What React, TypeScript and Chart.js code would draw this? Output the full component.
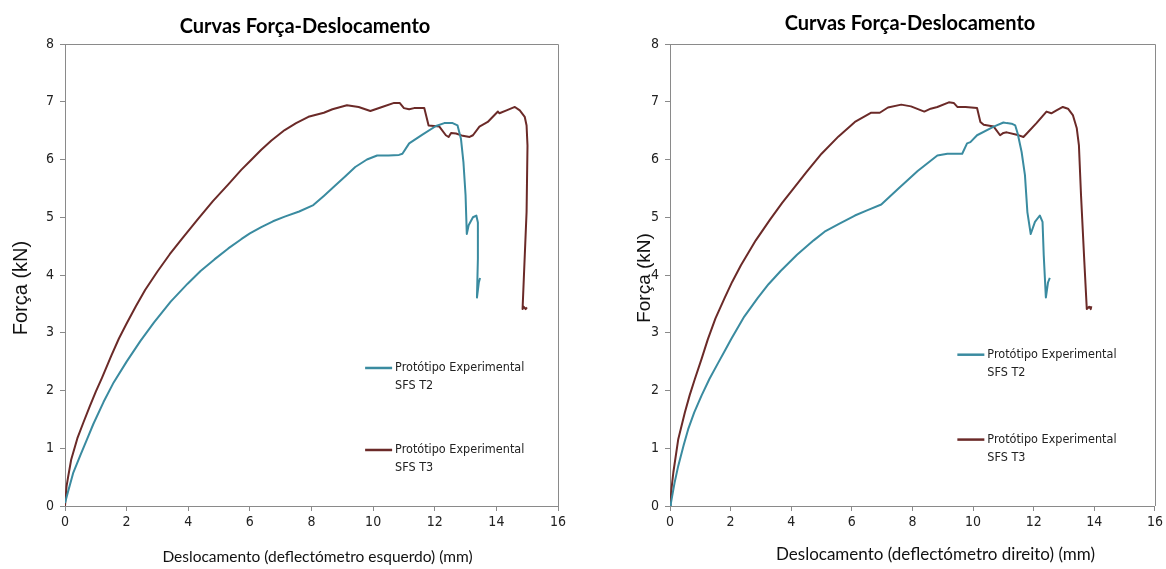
import React, { useEffect, useRef } from "react";
import { Chart, registerables } from "chart.js";

Chart.register(...registerables);

// ---------- text ----------
const CHART_TITLE = "Curvas Força-Deslocamento";
const Y_AXIS_TITLE = "Força (kN)";
const X_AXIS_TITLE_LEFT = "Deslocamento (deflectómetro esquerdo) (mm)";
const X_AXIS_TITLE_RIGHT = "Deslocamento (deflectómetro direito) (mm)";
const SERIES_T2_LABEL = ["Protótipo Experimental", "SFS T2"];
const SERIES_T3_LABEL = ["Protótipo Experimental", "SFS T3"];

// ---------- axes ----------
const X_MIN = 0;
const X_MAX = 16;
const X_STEP = 2;
const Y_MIN = 0;
const Y_MAX = 8;
const Y_STEP = 1;

// ---------- left chart (deflectómetro esquerdo) ----------
const leftT2X = [0, 0.1, 0.27, 0.5, 0.71, 0.92, 1.25, 1.58, 2.0, 2.45, 2.89, 3.43, 3.98, 4.4, 4.85, 5.3, 5.72, 6.0, 6.37, 6.75, 7.13, 7.6, 8.06, 8.4, 8.77, 9.1, 9.42, 9.8, 10.13, 10.5, 10.84, 10.95, 11.17, 11.6, 12.04, 12.31, 12.58, 12.74, 12.85, 12.93, 13.0, 13.04, 13.1, 13.24, 13.35, 13.4, 13.4, 13.37, 13.43, 13.47];
const leftT2Y = [0.05, 0.25, 0.58, 0.88, 1.15, 1.42, 1.8, 2.14, 2.5, 2.86, 3.18, 3.54, 3.85, 4.07, 4.27, 4.46, 4.62, 4.72, 4.83, 4.93, 5.01, 5.1, 5.21, 5.37, 5.55, 5.71, 5.87, 6.0, 6.07, 6.07, 6.08, 6.1, 6.28, 6.43, 6.58, 6.63, 6.63, 6.59, 6.36, 5.96, 5.38, 4.71, 4.86, 5.0, 5.03, 4.91, 4.28, 3.61, 3.87, 3.95];

const leftT3X = [0, 0.05, 0.1, 0.2, 0.4, 0.6, 0.8, 1.0, 1.2, 1.5, 1.75, 2.0, 2.3, 2.6, 3.0, 3.4, 3.8, 4.3, 4.8, 5.3, 5.72, 6.0, 6.37, 6.7, 7.13, 7.5, 7.9, 8.4, 8.68, 9.15, 9.53, 9.91, 10.29, 10.68, 10.86, 11.0, 11.17, 11.33, 11.66, 11.8, 12.15, 12.36, 12.45, 12.53, 12.69, 12.91, 13.13, 13.24, 13.45, 13.72, 14.05, 14.1, 14.33, 14.6, 14.76, 14.92, 14.98, 15.01, 14.98, 14.89, 14.85, 14.89, 14.95, 14.99];
const leftT3Y = [0, 0.34, 0.5, 0.8, 1.17, 1.45, 1.72, 1.98, 2.22, 2.6, 2.9, 3.16, 3.46, 3.74, 4.06, 4.36, 4.63, 4.96, 5.28, 5.57, 5.82, 5.97, 6.17, 6.33, 6.51, 6.63, 6.74, 6.81, 6.87, 6.94, 6.91, 6.84, 6.91, 6.98, 6.98, 6.89, 6.87, 6.89, 6.89, 6.59, 6.57, 6.42, 6.39, 6.46, 6.45, 6.41, 6.39, 6.42, 6.57, 6.65, 6.83, 6.8, 6.85, 6.91, 6.85, 6.74, 6.59, 6.24, 5.09, 3.93, 3.41, 3.45, 3.41, 3.44];

// ---------- right chart (deflectómetro direito) ----------
const rightT2X = [0, 0.03, 0.15, 0.27, 0.45, 0.6, 0.8, 1.04, 1.3, 1.58, 1.8, 2.02, 2.45, 2.89, 3.25, 3.65, 4.19, 4.74, 5.1, 5.56, 6.1, 6.5, 6.97, 7.52, 8.17, 8.82, 9.15, 9.64, 9.8, 9.91, 10.13, 10.57, 10.68, 11.0, 11.11, 11.27, 11.39, 11.47, 11.6, 11.71, 11.79, 11.9, 12.04, 12.2, 12.29, 12.33, 12.4, 12.47, 12.53];
const rightT2Y = [0, 0.05, 0.4, 0.69, 1.05, 1.33, 1.62, 1.91, 2.2, 2.47, 2.68, 2.89, 3.28, 3.6, 3.84, 4.07, 4.35, 4.6, 4.75, 4.88, 5.03, 5.12, 5.22, 5.49, 5.8, 6.07, 6.1, 6.1, 6.28, 6.3, 6.42, 6.54, 6.57, 6.64, 6.63, 6.62, 6.59, 6.45, 6.13, 5.73, 5.09, 4.71, 4.92, 5.03, 4.92, 4.34, 3.61, 3.87, 3.95];

const rightT3X = [0, 0.05, 0.11, 0.27, 0.49, 0.65, 0.82, 1.05, 1.25, 1.5, 1.8, 2.05, 2.34, 2.83, 3.3, 3.7, 4.0, 4.5, 5.0, 5.56, 6.1, 6.64, 6.92, 7.19, 7.63, 7.95, 8.39, 8.6, 8.82, 9.2, 9.36, 9.48, 9.75, 10.13, 10.24, 10.35, 10.68, 10.89, 11.0, 11.11, 11.44, 11.66, 11.77, 12.09, 12.42, 12.58, 12.75, 12.96, 13.13, 13.29, 13.42, 13.49, 13.56, 13.67, 13.75, 13.83, 13.88, 13.9];
const rightT3Y = [0, 0.3, 0.58, 1.15, 1.62, 1.92, 2.2, 2.56, 2.89, 3.25, 3.6, 3.88, 4.17, 4.6, 4.96, 5.25, 5.45, 5.78, 6.1, 6.4, 6.65, 6.81, 6.81, 6.9, 6.95, 6.92, 6.83, 6.88, 6.91, 6.99, 6.98, 6.91, 6.91, 6.89, 6.65, 6.6, 6.57, 6.42, 6.46, 6.47, 6.43, 6.39, 6.45, 6.63, 6.83, 6.8, 6.85, 6.91, 6.88, 6.77, 6.54, 6.25, 5.38, 4.22, 3.41, 3.45, 3.41, 3.46];

// legend anchor positions, in data units
const leftLegendX = [9.74, 9.74];
const leftLegendY = [2.39, 0.97];
const rightLegendX = [9.48, 9.48];
const rightLegendY = [2.62, 1.15];

// ---------- styles ----------
const COLOR_T2 = "#3a8ba0";
const COLOR_T3 = "#6b2a28";
const AXIS_COLOR = "#8a8a8a";
const NARROW = "'Liberation Sans Narrow', 'DejaVu Sans Condensed', 'Liberation Sans', Arial, sans-serif";
const CALIBRI_LIKE = "Lato, 'Open Sans', sans-serif";
const ARIAL = "'Liberation Sans', Arial, sans-serif";

const toPoints = (xs: number[], ys: number[]) => xs.map((x, i) => ({ x, y: ys[i] }));

type Layout = {
  canvasLeft: number;
  padRight: number;
  yScaleWidth: number;
  titleX: number;
  titleY: number;
  xTitle: string;
  xTitleDx: number;
  xTitleY: number;
  xTitleSize: number;
  yTitleX: number;
  yTitleDy: number;
  yTitleSize: number;
  legendX: number[];
  legendY: number[];
};

const W = 583;
const H = 569;

function ForceChart({
  t2x, t2y, t3x, t3y, layout,
}: { t2x: number[]; t2y: number[]; t3x: number[]; t3y: number[]; layout: Layout }) {
  const ref = useRef<HTMLCanvasElement | null>(null);

  useEffect(() => {
    const canvas = ref.current;
    if (!canvas) return;

    const framePlugin = {
      id: "frame",
      beforeDatasetsDraw(chart: any) {
        const { ctx, chartArea: a } = chart;
        ctx.save();
        ctx.strokeStyle = AXIS_COLOR;
        ctx.lineWidth = 1;
        ctx.beginPath();
        ctx.moveTo(a.left, Math.round(a.top) + 0.5);
        ctx.lineTo(Math.round(a.right) + 0.5, Math.round(a.top) + 0.5);
        ctx.lineTo(Math.round(a.right) + 0.5, a.bottom);
        ctx.stroke();
        ctx.restore();
      },
    };

    const titlesPlugin = {
      id: "titles",
      afterDraw(chart: any) {
        const { ctx, chartArea: a } = chart;
        ctx.save();
        ctx.textAlign = "center";
        ctx.textBaseline = "middle";
        ctx.fillStyle = "#000";
        ctx.font = `bold 20px ${CALIBRI_LIKE}`;
        ctx.fillText(CHART_TITLE, layout.titleX, layout.titleY);
        ctx.fillStyle = "#111";
        ctx.font = `${layout.xTitleSize}px ${CALIBRI_LIKE}`;
        ctx.fillText(layout.xTitle, (a.left + a.right) / 2 + layout.xTitleDx, layout.xTitleY);
        ctx.translate(layout.yTitleX, (a.top + a.bottom) / 2 + layout.yTitleDy);
        ctx.rotate(-Math.PI / 2);
        ctx.font = `${layout.yTitleSize}px ${ARIAL}`;
        ctx.fillText(Y_AXIS_TITLE, 0, 0);
        ctx.restore();
      },
    };

    const legendPlugin = {
      id: "innerLegend",
      afterDraw(chart: any) {
        const { ctx } = chart;
        const xs = chart.scales.x;
        const ys = chart.scales.y;
        const items = [
          { lines: SERIES_T2_LABEL, color: COLOR_T2 },
          { lines: SERIES_T3_LABEL, color: COLOR_T3 },
        ];
        ctx.save();
        ctx.font = `12.5px ${NARROW}`;
        ctx.textAlign = "left";
        ctx.textBaseline = "middle";
        items.forEach((it, i) => {
          const px = xs.getPixelForValue(layout.legendX[i]);
          const py = ys.getPixelForValue(layout.legendY[i]);
          ctx.strokeStyle = it.color;
          ctx.lineWidth = 2.5;
          ctx.beginPath();
          ctx.moveTo(px, py);
          ctx.lineTo(px + 27, py);
          ctx.stroke();
          ctx.fillStyle = "#222";
          it.lines.forEach((ln, j) => ctx.fillText(ln, px + 30, py + j * 18));
        });
        ctx.restore();
      },
    };

    const chart = new Chart(canvas, {
      type: "line",
      data: {
        datasets: [
          {
            label: SERIES_T2_LABEL.join(" "),
            data: toPoints(t2x, t2y),
            borderColor: COLOR_T2,
            backgroundColor: COLOR_T2,
            borderWidth: 2,
            pointRadius: 0,
            tension: 0,
            borderJoinStyle: "round",
          },
          {
            label: SERIES_T3_LABEL.join(" "),
            data: toPoints(t3x, t3y),
            borderColor: COLOR_T3,
            backgroundColor: COLOR_T3,
            borderWidth: 2,
            pointRadius: 0,
            tension: 0,
            borderJoinStyle: "round",
          },
        ],
      },
      options: {
        responsive: false,
        animation: false,
        layout: { padding: { left: 0, right: layout.padRight, top: 44, bottom: 0 } },
        plugins: {
          legend: { display: false },
          tooltip: { enabled: false },
          title: { display: false },
        },
        scales: {
          x: {
            type: "linear",
            min: X_MIN,
            max: X_MAX,
            afterFit: (s: any) => { s.height = 63; },
            ticks: {
              stepSize: X_STEP,
              color: "#222",
              padding: 3,
              maxRotation: 0,
              font: { family: NARROW, size: 14 },
            },
            grid: { display: true, drawOnChartArea: false, drawTicks: true, tickLength: 5, color: AXIS_COLOR },
            border: { display: true, color: AXIS_COLOR, width: 1 },
          },
          y: {
            type: "linear",
            min: Y_MIN,
            max: Y_MAX,
            afterFit: (s: any) => { s.width = layout.yScaleWidth; },
            ticks: {
              stepSize: Y_STEP,
              color: "#222",
              padding: 6,
              font: { family: NARROW, size: 14 },
            },
            grid: { display: true, drawOnChartArea: false, drawTicks: true, tickLength: 5, color: AXIS_COLOR },
            border: { display: true, color: AXIS_COLOR, width: 1 },
          },
        },
      },
      plugins: [framePlugin, titlesPlugin, legendPlugin],
    } as any);

    return () => chart.destroy();
  }, []);

  return (
    <canvas
      ref={ref}
      width={W}
      height={H}
      style={{ position: "absolute", left: layout.canvasLeft, top: 0, width: W, height: H }}
    />
  );
}

const leftLayout: Layout = {
  canvasLeft: 0,
  padRight: 25,
  yScaleWidth: 65,
  titleX: 305,
  titleY: 27,
  xTitle: X_AXIS_TITLE_LEFT,
  xTitleDx: 6,
  xTitleY: 557,
  xTitleSize: 15.5,
  yTitleX: 21,
  yTitleDy: 13,
  yTitleSize: 20,
  legendX: leftLegendX,
  legendY: leftLegendY,
};

const rightLayout: Layout = {
  canvasLeft: 583,
  padRight: 6.4,
  yScaleWidth: 87,
  titleX: 327,
  titleY: 24,
  xTitle: X_AXIS_TITLE_RIGHT,
  xTitleDx: 23,
  xTitleY: 555,
  xTitleSize: 17,
  yTitleX: 62,
  yTitleDy: 3,
  yTitleSize: 19,
  legendX: rightLegendX,
  legendY: rightLegendY,
};

export default function App() {
  return (
    <div style={{ position: "absolute", left: 0, top: 0, width: 1166, height: 569, background: "#fff" }}>
      <ForceChart t2x={leftT2X} t2y={leftT2Y} t3x={leftT3X} t3y={leftT3Y} layout={leftLayout} />
      <ForceChart t2x={rightT2X} t2y={rightT2Y} t3x={rightT3X} t3y={rightT3Y} layout={rightLayout} />
    </div>
  );
}
